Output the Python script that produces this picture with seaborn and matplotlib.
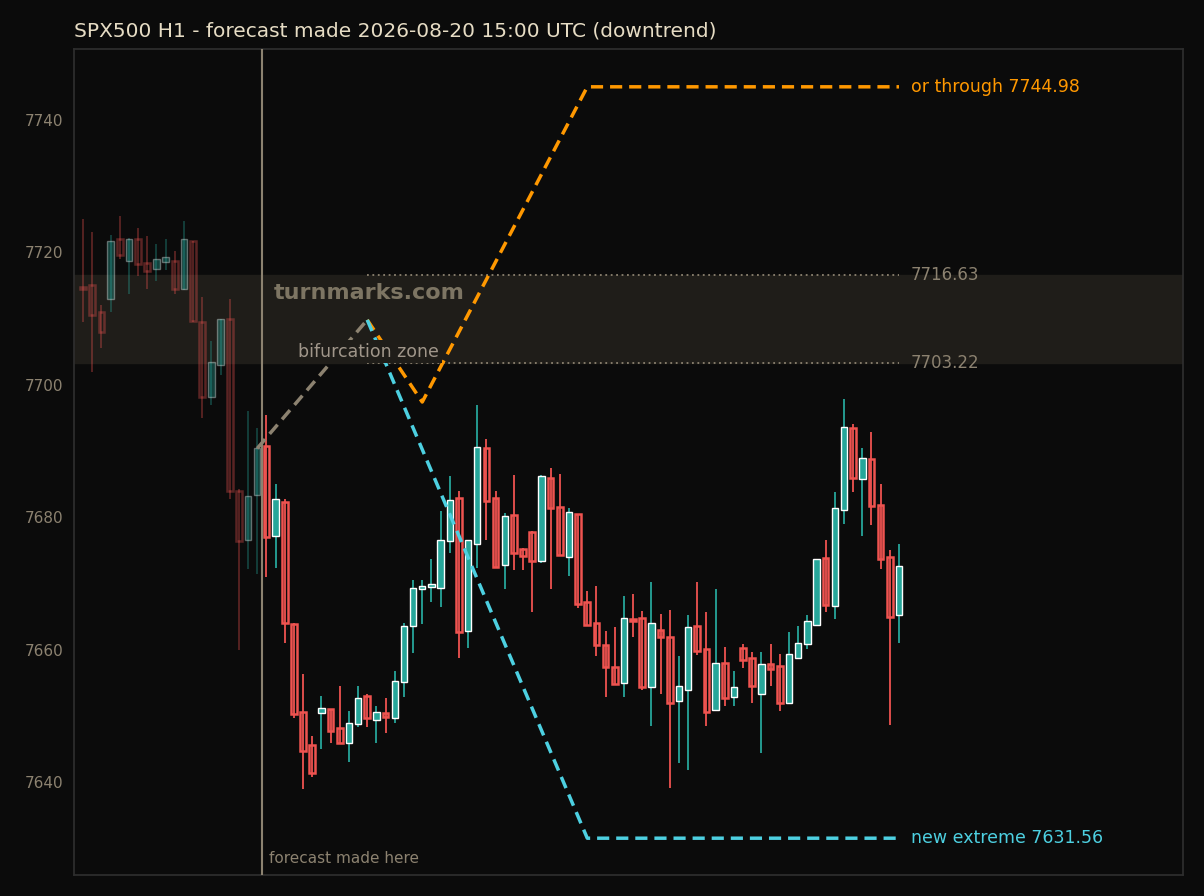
import numpy as np
import pandas as pd
import seaborn as sns
import matplotlib
matplotlib.use("Agg")
import matplotlib.pyplot as plt

# OHLC, hourly candles (first 20 are history before the forecast point)
opens = [7714.6, 7715.0, 7711.0, 7713.0, 7722.0, 7718.7, 7722.0, 7718.4, 7717.5, 7718.5,
         7718.7, 7714.5, 7721.7, 7709.5, 7698.2, 7703.0, 7710.0, 7684.0, 7676.6, 7683.4,
         7690.8, 7677.2, 7682.3, 7663.9, 7650.6, 7645.6, 7650.4, 7651.0, 7648.2, 7645.9,
         7648.8, 7653.0, 7649.4, 7650.4, 7649.7, 7655.1, 7663.6, 7669.2, 7669.5, 7669.3,
         7676.4, 7682.9, 7662.8, 7676.0, 7690.5, 7682.9, 7672.8, 7680.3, 7675.2, 7677.8,
         7673.4, 7686.0, 7681.5, 7674.0, 7680.5, 7667.2, 7664.0, 7660.7, 7657.4, 7655.0,
         7664.6, 7664.8, 7654.4, 7663.0, 7661.9, 7652.2, 7654.0, 7663.6, 7660.1, 7650.9,
         7658.0, 7652.8, 7660.2, 7658.7, 7653.3, 7657.8, 7657.5, 7651.9, 7658.7, 7660.8,
         7663.7, 7673.8, 7666.6, 7681.1, 7693.5, 7685.8, 7688.8, 7681.8, 7674.0, 7665.2]
closes = [7714.4, 7710.5, 7708.0, 7721.7, 7719.6, 7722.0, 7718.2, 7717.2, 7719.0, 7719.3,
          7714.5, 7722.0, 7709.6, 7698.2, 7703.4, 7710.0, 7684.0, 7676.4, 7683.2, 7690.5,
          7677.0, 7682.7, 7664.0, 7650.3, 7644.7, 7641.4, 7651.2, 7647.7, 7646.0, 7648.9,
          7652.7, 7649.7, 7650.6, 7649.8, 7655.3, 7663.6, 7669.3, 7669.6, 7670.0, 7676.6,
          7682.6, 7662.7, 7676.6, 7690.6, 7682.4, 7672.5, 7680.2, 7674.6, 7674.1, 7673.4,
          7686.2, 7681.4, 7674.3, 7680.8, 7666.9, 7663.7, 7660.7, 7657.4, 7654.8, 7664.8,
          7664.3, 7654.4, 7664.0, 7661.9, 7651.9, 7654.6, 7663.4, 7659.8, 7650.6, 7658.0,
          7652.7, 7654.4, 7658.4, 7654.6, 7657.8, 7657.1, 7651.9, 7659.3, 7661.0, 7664.3,
          7673.7, 7666.7, 7681.4, 7693.6, 7686.0, 7689.0, 7681.7, 7673.7, 7664.9, 7672.6]
highs = [7725.0, 7723.0, 7712.0, 7722.6, 7725.5, 7722.2, 7723.7, 7722.5, 7721.3, 7722.0,
         7720.2, 7724.7, 7721.7, 7713.3, 7706.6, 7710.0, 7713.0, 7684.3, 7696.0, 7693.5,
         7695.4, 7685.0, 7682.7, 7664.0, 7656.3, 7647.0, 7653.0, 7651.0, 7654.5, 7650.7,
         7654.5, 7653.3, 7651.5, 7652.7, 7656.8, 7664.0, 7670.5, 7670.5, 7673.7, 7681.0,
         7686.2, 7684.0, 7676.6, 7697.0, 7691.8, 7684.0, 7680.6, 7686.4, 7675.3, 7677.9,
         7686.4, 7687.4, 7686.5, 7681.4, 7680.5, 7668.9, 7669.6, 7662.8, 7663.4, 7668.1,
         7668.4, 7665.8, 7670.2, 7665.4, 7666.0, 7659.0, 7665.2, 7670.2, 7665.7, 7669.2,
         7660.4, 7656.8, 7660.8, 7659.6, 7659.6, 7660.8, 7659.3, 7662.7, 7663.6, 7665.2,
         7673.7, 7676.6, 7683.8, 7697.9, 7694.1, 7690.5, 7692.9, 7685.0, 7675.0, 7676.0]
lows = [7709.5, 7702.0, 7705.5, 7711.0, 7719.0, 7713.7, 7716.4, 7714.5, 7715.7, 7717.3,
        7713.7, 7714.3, 7709.5, 7695.0, 7697.0, 7701.5, 7682.7, 7660.0, 7672.2, 7671.4,
        7671.0, 7672.3, 7661.0, 7649.7, 7639.0, 7640.8, 7645.0, 7645.9, 7646.0, 7643.0,
        7648.3, 7648.3, 7646.0, 7647.4, 7649.0, 7652.8, 7659.5, 7663.9, 7667.2, 7666.4,
        7674.6, 7658.7, 7660.2, 7672.3, 7676.6, 7672.5, 7669.2, 7672.0, 7672.0, 7665.7,
        7673.1, 7669.2, 7674.3, 7671.1, 7666.3, 7663.7, 7659.0, 7652.8, 7654.8, 7652.8,
        7661.9, 7654.0, 7648.5, 7653.4, 7639.1, 7642.9, 7641.8, 7659.2, 7648.5, 7650.9,
        7651.5, 7651.5, 7657.2, 7651.9, 7644.4, 7654.6, 7650.7, 7651.9, 7658.6, 7660.1,
        7663.7, 7665.7, 7664.6, 7679.0, 7683.8, 7677.2, 7678.8, 7672.2, 7648.6, 7661.0]
n_history = 20

# forecast paths: (bar index, price)
neutral_path = [(19, 7690.4), (31, 7709.8)]
up_path = [(31, 7709.8), (37, 7697.4), (55, 7744.98), (89, 7744.98)]
down_path = [(31, 7709.8), (55, 7631.56), (89, 7631.56)]
zone_hi, zone_lo = 7716.63, 7703.22

BG = "#0b0b0b"
GREEN, RED = "#26a69a", "#ef5350"
ORANGE, CYAN = "#ff9800", "#4dd0e1"
MUTED = "#8c8270"

sns.set_theme(style="dark", rc={"axes.facecolor": BG, "figure.facecolor": BG,
                                "axes.edgecolor": "#2e2e2e", "xtick.color": MUTED,
                                "ytick.color": MUTED, "text.color": MUTED})
plt.rcParams['font.family'] = ['DejaVu Sans']

fig = plt.figure(figsize=(12.04, 8.96), dpi=100)
ax = fig.add_axes([0.0615, 0.0234, 0.921, 0.922])

df = pd.DataFrame({"open": opens, "close": closes, "high": highs, "low": lows})
df["i"] = np.arange(len(df))
df["up"] = df["close"] >= df["open"]

for row in df.itertuples():
    a = 0.35 if row.i < n_history else 1.0
    col = GREEN if row.up else RED
    ax.vlines(row.i, row.low, row.high, color=col, lw=1.3, alpha=a, zorder=3)
    lo, hi = min(row.open, row.close), max(row.open, row.close)
    h = max(hi - lo, 0.35)
    if row.up:
        ax.bar(row.i, h, bottom=lo, width=0.7, color=col, alpha=a, zorder=4)
    else:
        ax.bar(row.i, h, bottom=lo, width=0.62, facecolor="none", edgecolor=col,
               lw=1.8, alpha=a, zorder=4)

# bifurcation zone
ax.axhspan(zone_lo, zone_hi, color="#1f1d19", zorder=1)
for lv in (zone_hi, zone_lo):
    ax.hlines(lv, 31, 89, color=MUTED, lw=1.3, linestyles=(0, (1, 2)), zorder=2)
    ax.text(90.3, lv, f"{lv:.2f}", color=MUTED, fontsize=12, va="center")

ax.axvline(19.5, color=MUTED, lw=1.5, zorder=5)
ax.text(20.3, 7628.5, "forecast made here", color=MUTED, fontsize=11, va="center")

for path, col in ((neutral_path, MUTED), (up_path, ORANGE), (down_path, CYAN)):
    p = pd.DataFrame(path, columns=["x", "y"])
    sns.lineplot(data=p, x="x", y="y", ax=ax, color=col, lw=2.5, sort=False,
                 dashes=False, zorder=6).lines[-1].set_linestyle((0, (3.5, 2)))

ax.text(90.3, up_path[-1][1], f"or through {up_path[-1][1]:.2f}", color=ORANGE,
        fontsize=12.5, va="center")
ax.text(90.3, down_path[-1][1], f"new extreme {down_path[-1][1]:.2f}", color=CYAN,
        fontsize=12.5, va="center")
ax.text(20.8, 7713.8, "turnmarks.com", color="#7d7563", fontsize=16,
        fontweight="bold", va="center", zorder=7)
ax.text(23.5, 7705.0, "bifurcation zone", color="#a0968a", fontsize=12.5, va="center",
        zorder=7, bbox=dict(facecolor="#1f1d19", edgecolor="none", pad=2))

ax.set_xlim(-0.98, 119.97)
ax.set_ylim(7626.0, 7750.7)
ax.set_yticks([7640, 7660, 7680, 7700, 7720, 7740])
ax.set_xticks([])
ax.tick_params(axis="y", labelsize=11, length=4, color=MUTED)
ax.set_xlabel("")
ax.set_ylabel("")
ax.grid(False)
fig.text(0.0615, 0.965, "SPX500 H1 - forecast made 2026-08-20 15:00 UTC (downtrend)",
         color="#e6dcc4", fontsize=14.5, va="center")

fig.savefig("out.png", dpi=100, facecolor=BG)
